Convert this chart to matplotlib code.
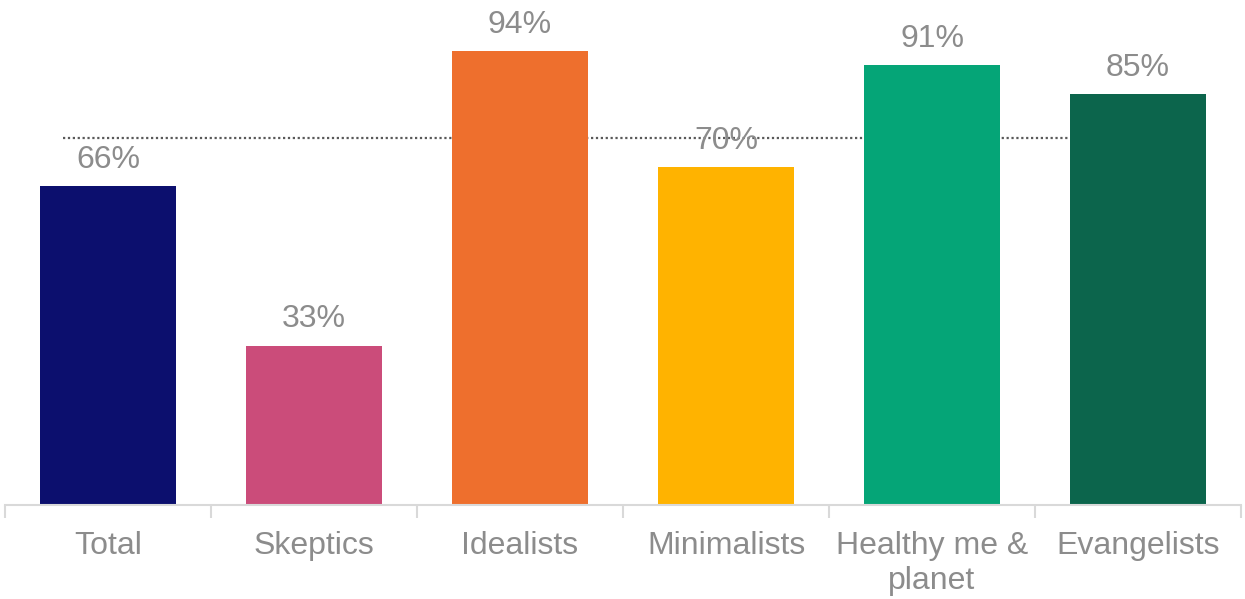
import matplotlib
matplotlib.use("Agg")
import matplotlib.pyplot as plt
import numpy as np

categories = ["Total", "Skeptics", "Idealists", "Minimalists", "Healthy me &\nplanet", "Evangelists"]
values = [66, 33, 94, 70, 91, 85]
colors = ["#0C0F6E", "#CB4C7A", "#EE6F2D", "#FFB300", "#05A577", "#0C654C"]
reference_level = 76

plt.rcParams["font.family"] = ["Liberation Sans", "DejaVu Sans"]
text_gray = "#8C8C8C"

fig = plt.figure(figsize=(12.45, 5.99), dpi=100)
ax = fig.add_axes([5 / 1245, 94 / 599, 1236 / 1245, 483 / 599])

x = np.arange(len(categories))
ax.plot([-0.22, 4.9], [reference_level, reference_level], linestyle=(0, (1, 1.2)),
        color="#595959", linewidth=1.6, zorder=1)
bars = ax.bar(x, values, width=0.66, color=colors, zorder=2)

for xi, v in zip(x, values):
    ax.annotate(f"{v}%", (xi, v), xytext=(0, 8), textcoords="offset points",
                ha="center", va="bottom", fontsize=23, color=text_gray, zorder=3)

ax.set_xlim(-0.5, len(categories) - 0.5)
ax.set_ylim(0, 100)

for side in ["top", "right", "left"]:
    ax.spines[side].set_visible(False)
ax.spines["bottom"].set_color("#D9D9D9")
ax.spines["bottom"].set_linewidth(1.5)

ax.set_yticks([])
ax.set_xticks(x)
ax.set_xticklabels(categories, fontsize=23, color=text_gray, linespacing=1.2)
ax.tick_params(axis="x", which="major", length=0, pad=19)
ax.set_xticks(np.arange(-0.5, len(categories)), minor=True)
ax.tick_params(axis="x", which="minor", length=9, width=1.5, color="#D9D9D9")

fig.savefig("out.png", dpi=100, facecolor="white")
